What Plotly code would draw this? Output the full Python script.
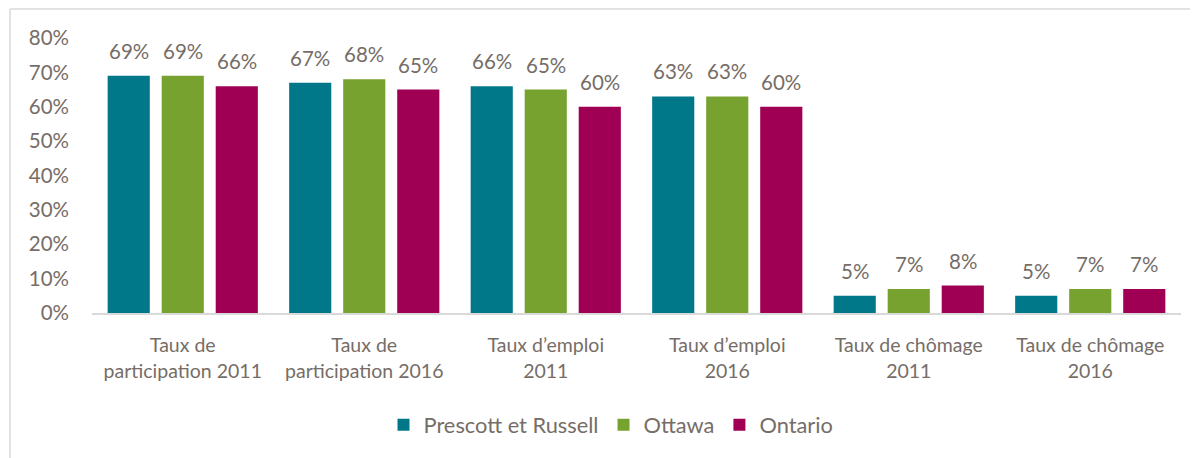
import plotly.graph_objects as go

categories = ["Taux de<br>participation 2011", "Taux de<br>participation 2016",
              "Taux d’emploi<br>2011", "Taux d’emploi<br>2016",
              "Taux de chômage<br>2011", "Taux de chômage<br>2016"]
prescott = [0.69, 0.67, 0.66, 0.63, 0.05, 0.05]
ottawa = [0.69, 0.68, 0.65, 0.63, 0.07, 0.07]
ontario = [0.66, 0.65, 0.60, 0.60, 0.08, 0.07]
series_names = ["Prescott et Russell", "Ottawa", "Ontario"]
colors = ["#00788A", "#78A22F", "#A00054"]

TXT = "#766D67"
FONT = "Lato"

# page body has an 8px margin, so the figure is sized/offset accordingly
W, H = 1190, 450
ML, MR, MT, MB = 84, 17, 30, 145
SLOT = 54  # px between neighbouring bars inside a group

fig = go.Figure()
all_vals = [prescott, ottawa, ontario]
for name, vals, col in zip(series_names, all_vals, colors):
    fig.add_trace(go.Bar(
        x=categories, y=vals, name=name,
        marker=dict(color=col, line=dict(width=0)),
    ))

for j, vals in enumerate(all_vals):
    for cat, v in zip(categories, vals):
        fig.add_annotation(x=cat, y=v, xref="x", yref="y", text=f"{round(v*100)}%",
                           showarrow=False, xanchor="center", yanchor="bottom",
                           xshift=(j - 1) * SLOT, yshift=11,
                           font=dict(size=20.5, color=TXT, family=FONT))

pw = W - ML - MR
ph = H - MT - MB
x0 = (2 - ML) / pw
y0 = (H - 1 - MB) / ph
fig.add_shape(type="line", xref="paper", yref="paper", x0=x0, x1=(W - ML) / pw,
              y0=y0, y1=y0, line=dict(color="#D9D9D9", width=1.5))
fig.add_shape(type="line", xref="paper", yref="paper", x0=x0, x1=x0,
              y0=y0, y1=-MB / ph, line=dict(color="#D9D9D9", width=1.5))

fig.update_layout(
    width=W, height=H,
    margin=dict(l=ML, r=MR, t=MT, b=MB, autoexpand=False),
    paper_bgcolor="white", plot_bgcolor="white",
    barmode="group", bargap=0.107, bargroupgap=0.22,
    font=dict(family=FONT, color=TXT, size=19),
    showlegend=True,
    legend=dict(orientation="h", x=(603 - ML) / pw, xanchor="center",
                y=(305 - 417) / ph, yanchor="middle",
                font=dict(size=21.8, color=TXT, family=FONT), traceorder="normal",
                itemwidth=30),
    xaxis=dict(showline=True, linecolor="#D9D9D9", linewidth=1.5, ticks="",
               ticklabelstandoff=14,
               tickfont=dict(size=19.5, color=TXT, family=FONT)),
    yaxis=dict(range=[0, 0.8], dtick=0.1, tickformat=".0%", showgrid=False,
               zeroline=False, showline=False, ticks="", ticklabelstandoff=22,
               tickfont=dict(size=20.5, color=TXT, family=FONT)),
)

fig.write_html("out.html")
